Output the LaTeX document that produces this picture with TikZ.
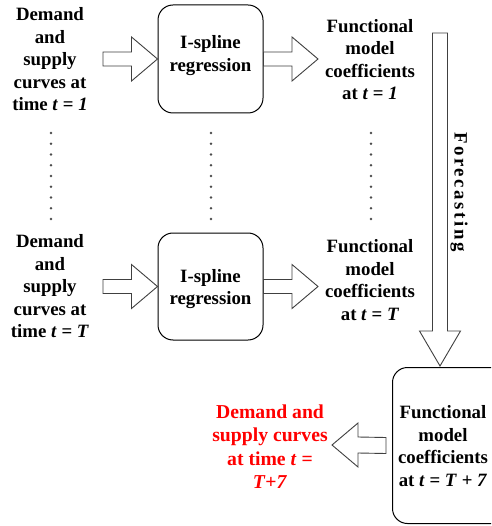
\documentclass[tikz,border=0pt]{standalone}
\usepackage{fontspec}
\setmainfont{Liberation Serif}
\usetikzlibrary{calc}
\tikzset{
  lbl/.style={font=\fontsize{18.8}{22.5}\selectfont\bfseries, align=center, inner sep=0pt, anchor=north},
  redlbl/.style={font=\fontsize{19.7}{23.3}\selectfont\bfseries, align=center, inner sep=0pt, anchor=north, text=red},
  rbox/.style={draw=black, line width=1pt, rounded corners=15pt, inner sep=0pt},
  barrow/.style={draw=black!75, line width=0.9pt, fill=white, line join=miter},
  dotmark/.style={fill=black!70}
}
\newcommand{\rarr}[2]{\draw[barrow] ($(#1)+(0,-7)$) -- ($(#2)+(-26,-7)$) -- ($(#2)+(-26,-22)$) -- (#2) -- ($(#2)+(-26,22)$) -- ($(#2)+(-26,7)$) -- ($(#1)+(0,7)$) -- cycle;}
\newcommand{\larr}[2]{\draw[barrow] ($(#1)+(0,-8)$) -- ($(#2)+(26,-8)$) -- ($(#2)+(26,-22)$) -- (#2) -- ($(#2)+(26,22)$) -- ($(#2)+(26,8)$) -- ($(#1)+(0,8)$) -- cycle;}
\newcommand{\darr}[2]{\draw[barrow] ($(#1)+(-7.5,0)$) -- ($(#2)+(-7.5,-35)$) -- ($(#2)+(-20.5,-35)$) -- (#2) -- ($(#2)+(20.5,-35)$) -- ($(#2)+(7.5,-35)$) -- ($(#1)+(7.5,0)$) -- cycle;}
\begin{document}
\begin{tikzpicture}[x=1pt,y=-1pt]
\useasboundingbox (0,0) rectangle (491,526);
\clip (0,0) rectangle (491,526);
\fill[white] (0,0) rectangle (491,526);

% boxes
\node[rbox, minimum width=105pt, minimum height=108pt] (box1) at (210.5,59) {};
\node[rbox, minimum width=105pt, minimum height=107pt] (box2) at (210.5,286.5) {};
\node[rbox, minimum width=130pt, minimum height=156pt, anchor=north west] (box3) at (392,367) {};

% texts
\node[lbl] (d1) at (50,7.3) {Demand\\and\\supply\\curves at\\time \textit{t} = \textit{1}};
\node[lbl] (i1) at (210.5,35.3) {I-spline\\regression};
\node[lbl] (f1) at (370,18.8) {Functional\\model\\coefficients\\at \textit{t} = \textit{1}};
\node[lbl] (d2) at (50,234.3) {Demand\\and\\supply\\curves at\\time \textit{t} = \textit{T}};
\node[lbl] (i2) at (210.5,268.8) {I-spline\\regression};
\node[lbl] (f2) at (370,239.3) {Functional\\model\\coefficients\\at \textit{t} = \textit{T}};
\node[lbl] (f3) at (443,405.3) {Functional\\model\\coefficients\\at \textit{t} = \textit{T} + \textit{7}};
\node[redlbl] (res) at (270,404.7) {Demand and\\supply curves\\at time \textit{t} =\\\textit{T}+\textit{7}};
\node[font=\fontsize{18.8}{22.5}\selectfont\bfseries, rotate=-90, inner sep=0pt] (fc) at (459,192) {\addfontfeature{LetterSpace=14}Forecasting};

% connector end points
\coordinate (a1s) at (103,59);
\coordinate (a2t) at (318,59);
\coordinate (a3s) at (103,286.5);
\coordinate (a4t) at (318,286.5);
\coordinate (fds) at (440,33);
\coordinate (fdt) at (440,366);
\coordinate (lat) at (332,445);

% block arrows
\rarr{a1s}{box1.west}
\rarr{box1.east}{a2t}
\rarr{a3s}{box2.west}
\rarr{box2.east}{a4t}
\darr{fds}{fdt}
\larr{$(box3.west)+(-6,0)$}{lat}

% dots
\foreach \x in {51,211,371}
  \foreach \i in {0,...,8}
    \fill[dotmark] (\x,133+\i*10.75) circle (1.3pt);
\end{tikzpicture}
\end{document}
